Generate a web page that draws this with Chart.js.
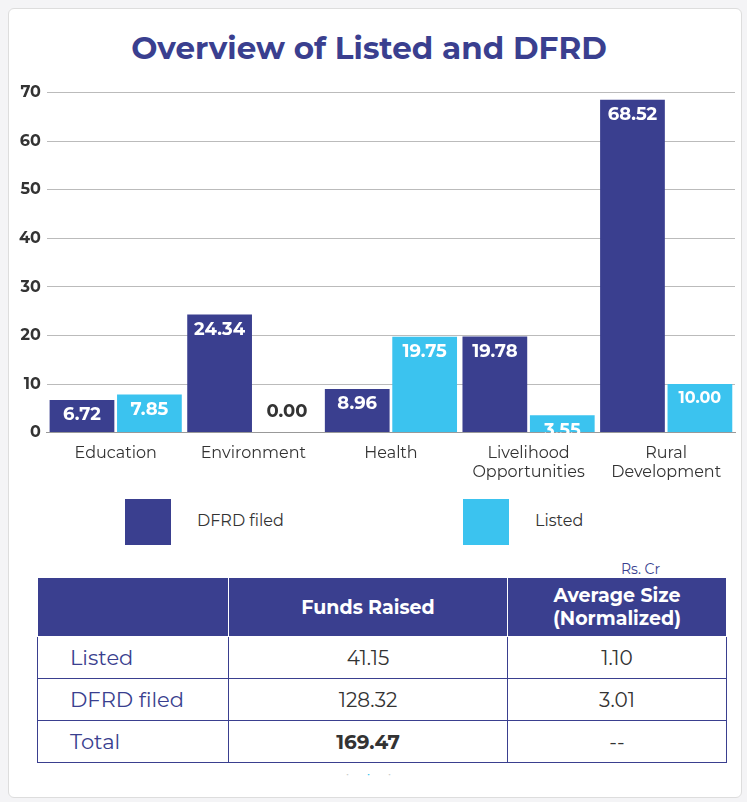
<!DOCTYPE html>
<html><head><meta charset="utf-8">
<script src="https://cdn.jsdelivr.net/npm/chart.js@4"></script>
<style>
body{margin:0;background:#f4f4f6;font-family:Montserrat,"Noto Sans",sans-serif;}
.card{position:absolute;left:8px;top:8px;width:732px;height:788px;background:#fff;border:1px solid #ddd;border-radius:6px;}
h1{position:absolute;left:0;width:720px;top:20px;margin:0;text-align:center;font-size:31px;color:#3a3f8f;font-weight:700;}
#wrap{position:absolute;left:4px;top:68px;width:726px;height:408px;}
.leg{position:absolute;top:490px;font-size:16px;color:#333;}
.leg span{display:inline-block;width:46px;height:46px;vertical-align:middle;margin-right:26px;}
.unit{position:absolute;left:612px;top:551px;font-size:14px;color:#3a3f8f;}
table{position:absolute;left:28px;top:568px;width:690px;border-collapse:collapse;font-size:20px;color:#333;}
th{background:#3a3f8f;color:#fff;font-weight:700;height:58px;border:1px solid #fff;font-size:19px;padding:0;}
td{border:1px solid #3a3f8f;height:41px;padding:0;text-align:center;}
td:first-child{text-align:left;padding-left:32px;color:#3a3f8f;font-size:21px;}
.dots{position:absolute;top:758px;left:337px;font-size:10px;color:#ccc;letter-spacing:18px;}
</style></head><body>
<div class="card">
<h1>Overview of Listed and DFRD</h1>
<div id="wrap"><canvas id="c"></canvas></div>
<div class="leg" style="left:116px"><span style="background:#3a3f8f"></span>DFRD filed</div>
<div class="leg" style="left:454px"><span style="background:#3bc3ef"></span>Listed</div>
<div class="unit">Rs. Cr</div>
<table>
<tr><th style="width:190px"></th><th>Funds Raised</th><th style="width:218px">Average Size<br>(Normalized)</th></tr>
<tr><td>Listed</td><td>41.15</td><td>1.10</td></tr>
<tr><td>DFRD filed</td><td>128.32</td><td>3.01</td></tr>
<tr><td>Total</td><td><b>169.47</b></td><td>--</td></tr>
</table>
<div class="dots">•<span style="color:#3bc3ef">•</span>•</div>
</div>
<script>
var categories = [["Education"], ["Environment"], ["Health"], ["Livelihood", "Opportunities"], ["Rural", "Development"]];
var dfrdValues = [6.72, 24.34, 8.96, 19.78, 68.52];
var listedValues = [7.85, 0.00, 19.75, 3.55, 10.00];
var yTicks = [0, 10, 20, 30, 40, 50, 60, 70];

Chart.defaults.font.family = "Montserrat, 'Noto Sans', sans-serif";

var labelPlugin = {
  id: "labels",
  afterDatasetsDraw: function(chart) {
    var ctx = chart.ctx;
    ctx.save();
    ctx.textAlign = "center";
    ctx.textBaseline = "top";
    chart.data.datasets.forEach(function(ds, i) {
      chart.getDatasetMeta(i).data.forEach(function(bar, j) {
        var v = ds.data[j];
        ctx.font = "bold " + (v === 10 ? 16 : 18) + "px Montserrat, 'Noto Sans', sans-serif";
        if (v === 0) { ctx.fillStyle = "#333"; ctx.fillText(v.toFixed(2), bar.x, bar.y - 30); }
        else { ctx.fillStyle = "#fff"; ctx.fillText(v.toFixed(2), bar.x, bar.y + 6); }
      });
    });
    ctx.restore();
  }
};

new Chart(document.getElementById("c"), {
  type: "bar",
  data: {
    labels: categories,
    datasets: [
      { label: "DFRD filed", data: dfrdValues, backgroundColor: "#3a3f8f" },
      { label: "Listed", data: listedValues, backgroundColor: "#3bc3ef" }
    ]
  },
  options: {
    responsive: true,
    maintainAspectRatio: false,
    animation: false,
    categoryPercentage: 0.98,
    barPercentage: 0.96,
    layout: { padding: { right: 4 } },
    scales: {
      y: {
        min: 0, max: 70,
        afterBuildTicks: function(s) { s.ticks = yTicks.map(function(v) { return { value: v }; }); },
        border: { display: false },
        grid: { color: "#bbb", drawTicks: false },
        ticks: { color: "#333", font: { size: 16, weight: "bold" }, padding: 6 }
      },
      x: {
        grid: { display: false },
        border: { color: "#999" },
        ticks: { color: "#333", font: { size: 16 }, maxRotation: 0 }
      }
    },
    plugins: { legend: { display: false }, tooltip: { enabled: false } }
  },
  plugins: [labelPlugin]
});
</script>
</body></html>
